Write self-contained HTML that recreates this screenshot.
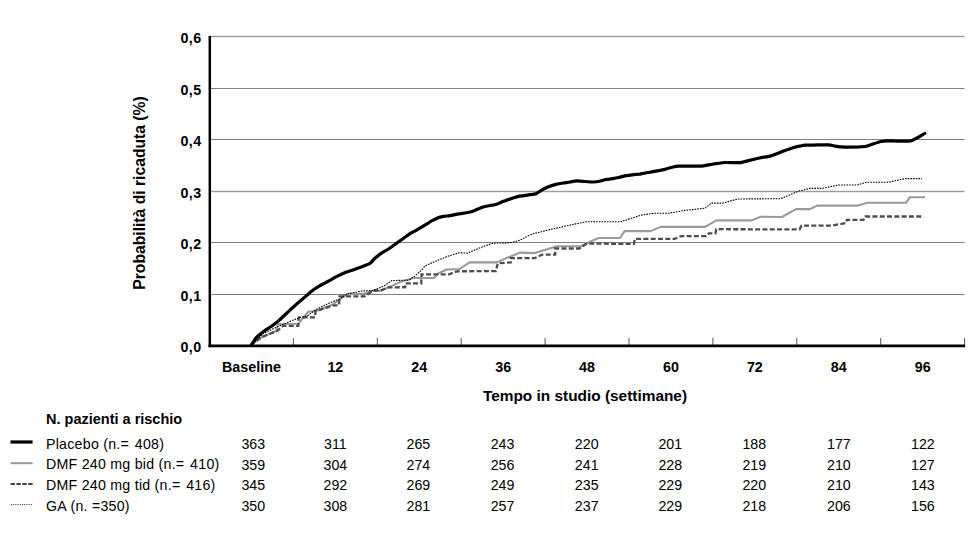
<!DOCTYPE html>
<html><head><meta charset="utf-8"><style>
html,body{margin:0;padding:0;background:#fff;width:975px;height:540px;overflow:hidden}
svg{display:block}
text{font-family:"Liberation Sans",sans-serif;fill:#000}
.tk{font-weight:bold;font-size:14.3px}
.ti{font-weight:bold;font-size:15.4px}
.yt{font-weight:bold;font-size:15.7px}
.hd{font-weight:bold;font-size:14.5px}
.rg{font-size:14.2px;letter-spacing:0.25px}
.nm{font-size:14.2px}
</style></head><body>
<svg width="975" height="540" viewBox="0 0 975 540">
<defs><clipPath id="plot"><rect x="0" y="0" width="975" height="345.5"/></clipPath></defs>
<rect x="211" y="35" width="753.6" height="3" fill="#ececec"/>
<rect x="211" y="36" width="753.6" height="1" fill="#9c9c9c"/>
<rect x="211" y="88" width="753.6" height="1" fill="#808080"/>
<rect x="211" y="139" width="753.6" height="1" fill="#808080"/>
<rect x="211" y="190" width="753.6" height="3" fill="#ececec"/>
<rect x="211" y="191" width="753.6" height="1" fill="#9c9c9c"/>
<rect x="211" y="242" width="753.6" height="1" fill="#808080"/>
<rect x="211" y="294" width="753.6" height="1" fill="#808080"/>
<text x="201.8" y="43.10" text-anchor="end" class="tk" letter-spacing="0.5">0,6</text>
<text x="201.8" y="95.10" text-anchor="end" class="tk" letter-spacing="0.5">0,5</text>
<text x="201.8" y="146.10" text-anchor="end" class="tk" letter-spacing="0.5">0,4</text>
<text x="201.8" y="198.10" text-anchor="end" class="tk" letter-spacing="0.5">0,3</text>
<text x="201.8" y="249.10" text-anchor="end" class="tk" letter-spacing="0.5">0,2</text>
<text x="201.8" y="301.10" text-anchor="end" class="tk" letter-spacing="0.5">0,1</text>
<text x="201.8" y="352.20" text-anchor="end" class="tk" letter-spacing="0.5">0,0</text>
<line x1="293.40" y1="338" x2="293.40" y2="345.85" stroke="#555" stroke-width="1"/>
<line x1="377.30" y1="338" x2="377.30" y2="345.85" stroke="#555" stroke-width="1"/>
<line x1="461.20" y1="338" x2="461.20" y2="345.85" stroke="#555" stroke-width="1"/>
<line x1="545.10" y1="338" x2="545.10" y2="345.85" stroke="#555" stroke-width="1"/>
<line x1="629.00" y1="338" x2="629.00" y2="345.85" stroke="#555" stroke-width="1"/>
<line x1="712.90" y1="338" x2="712.90" y2="345.85" stroke="#555" stroke-width="1"/>
<line x1="796.80" y1="338" x2="796.80" y2="345.85" stroke="#555" stroke-width="1"/>
<line x1="880.70" y1="338" x2="880.70" y2="345.85" stroke="#555" stroke-width="1"/>
<line x1="964.60" y1="338" x2="964.60" y2="345.85" stroke="#555" stroke-width="1"/>
<text x="251.45" y="371.6" text-anchor="middle" class="tk">Baseline</text>
<text x="335.35" y="371.6" text-anchor="middle" class="tk">12</text>
<text x="419.25" y="371.6" text-anchor="middle" class="tk">24</text>
<text x="503.15" y="371.6" text-anchor="middle" class="tk">36</text>
<text x="587.05" y="371.6" text-anchor="middle" class="tk">48</text>
<text x="670.95" y="371.6" text-anchor="middle" class="tk">60</text>
<text x="754.85" y="371.6" text-anchor="middle" class="tk">72</text>
<text x="838.75" y="371.6" text-anchor="middle" class="tk">84</text>
<text x="922.65" y="371.6" text-anchor="middle" class="tk">96</text>
<path d="M250.6,345.0 L262.0,337.0 L276.0,331.0 L278.0,324.0 L298.3,323.8 L308.3,311.6 L315.6,311.2 L332.2,304.8 L343.3,297.0 L347.4,293.9 L364.4,293.5 L373.3,290.5 L380.7,290.7 L388.1,287.6 L400.0,282.1 L413.3,278.0 L434.1,278.0 L437.8,273.6 L446.7,269.5 L459.3,269.1 L469.6,262.4 L496.3,262.4 L520.0,252.6 L534.8,253.1 L557.0,246.3 L581.1,246.3 L590.4,241.5 L598.7,238.0 L620.0,238.0 L624.6,231.1 L650.6,231.1 L660.7,226.9 L705.2,226.9 L716.3,220.4 L751.5,220.4 L760.7,216.7 L782.0,217.0 L795.9,209.1 L809.8,209.1 L817.2,205.6 L858.0,205.6 L867.2,202.8 L906.1,202.8 L909.8,197.2 L925.0,197.2" fill="none" stroke="#9a9a9a" stroke-width="2.1" stroke-linejoin="round"/>
<path d="M250.6,345.0 L262.0,337.0 L277.0,331.0 L283.0,325.8 L298.3,325.8 L298.8,317.3 L315.0,317.3 L315.6,311.0 L334.0,305.3 L339.0,305.3 L339.5,296.4 L364.4,296.4 L373.3,290.5 L380.7,290.5 L388.1,287.4 L405.2,287.2 L405.4,283.4 L421.3,283.4 L421.5,274.3 L449.0,274.3 L457.0,271.3 L495.9,271.1 L497.8,263.3 L510.7,262.4 L510.7,258.1 L534.8,258.1 L542.2,254.6 L555.2,254.6 L555.2,248.5 L579.3,248.5 L586.7,243.6 L633.9,243.9 L634.8,238.9 L674.6,238.9 L681.1,236.1 L706.1,236.1 L708.9,233.3 L715.4,233.3 L716.3,229.2 L799.6,229.4 L801.5,225.7 L831.1,225.7 L845.9,223.1 L846.9,219.8 L863.5,219.8 L865.4,216.5 L923.7,216.5" fill="none" stroke="#4d4d4d" stroke-width="2.3" stroke-dasharray="5 2.3"/>
<path d="M250.6,345.0 L263.7,333.3 L277.6,326.7 L292.0,320.6 L300.0,317.6 L307.2,315.9 L315.6,309.8 L326.7,304.2 L338.9,299.2 L347.4,293.9 L362.2,290.9 L373.3,290.5 L384.4,285.7 L391.9,280.5 L408.9,280.2 L414.8,276.1 L422.2,269.5 L425.2,265.8 L437.0,260.6 L448.1,256.1 L459.3,252.8 L467.4,253.1 L482.2,246.9 L493.3,243.1 L510.4,242.8 L520.0,240.2 L531.1,234.4 L549.6,229.6 L575.6,223.9 L586.7,221.7 L620.9,221.7 L641.3,215.1 L654.3,213.2 L669.1,213.2 L683.9,210.5 L705.2,208.2 L711.2,203.1 L722.8,203.1 L737.6,199.0 L780.6,198.7 L797.8,191.4 L809.8,188.4 L821.9,188.4 L838.5,185.0 L857.5,185.0 L866.3,182.2 L888.5,182.2 L905.2,178.6 L921.9,178.6" fill="none" stroke="#000" stroke-width="1.1" stroke-dasharray="1.6 1.1"/>
<path d="M251.0,345.6 C251.5,344.9 255.5,338.4 256.7,337.2 C257.8,335.9 263.5,331.6 264.8,330.6 C266.1,329.7 271.0,326.7 272.2,325.8 C273.4,324.9 278.1,321.2 279.6,319.9 C281.1,318.6 288.5,311.5 290.0,310.1 C291.5,308.7 296.2,304.5 297.4,303.4 C298.6,302.3 303.6,298.2 304.8,297.1 C306.0,296.0 311.0,291.6 312.2,290.7 C313.4,289.8 318.1,286.8 319.6,285.9 C321.1,285.0 328.5,281.1 330.0,280.3 C331.5,279.5 336.0,276.8 337.4,276.1 C338.8,275.4 345.1,272.5 346.3,272.0 C347.5,271.5 351.1,270.6 352.2,270.2 C353.3,269.8 358.1,268.2 359.6,267.6 C361.1,267.0 368.8,264.0 370.0,263.3 C371.2,262.6 373.5,259.6 374.4,258.8 C375.3,258.0 379.9,254.1 381.1,253.3 C382.3,252.5 387.3,249.8 388.5,249.0 C389.7,248.2 394.7,244.7 395.9,243.8 C397.1,242.9 402.1,239.3 403.3,238.5 C404.5,237.7 408.8,234.3 410.0,233.6 C411.2,232.9 416.2,230.3 417.4,229.6 C418.6,228.9 423.6,225.9 424.8,225.2 C426.0,224.5 431.1,221.3 432.2,220.7 C433.3,220.1 437.2,218.2 438.1,217.8 C439.0,217.4 442.3,216.6 443.3,216.4 C444.3,216.2 448.8,215.8 450.0,215.6 C451.2,215.4 456.2,214.3 457.4,214.1 C458.6,213.9 463.6,213.2 464.8,213.0 C466.0,212.8 471.1,211.8 472.2,211.5 C473.3,211.2 477.1,209.3 478.1,208.9 C479.1,208.5 483.1,207.0 484.1,206.7 C485.1,206.4 488.9,205.7 490.0,205.5 C491.1,205.3 496.2,204.3 497.4,203.9 C498.6,203.5 503.6,201.4 504.8,200.9 C506.0,200.4 511.0,198.7 512.2,198.3 C513.4,197.9 518.1,196.4 519.6,196.1 C521.1,195.8 528.6,194.9 530.0,194.7 C531.4,194.5 535.0,194.1 535.9,193.7 C536.8,193.3 540.1,191.0 541.1,190.4 C542.1,189.8 547.3,187.2 548.5,186.7 C549.7,186.2 554.7,184.7 555.9,184.4 C557.1,184.1 562.1,183.2 563.3,183.0 C564.5,182.8 568.9,182.2 570.0,182.0 C571.1,181.8 575.5,180.9 576.7,180.9 C577.9,180.9 583.4,181.4 584.8,181.5 C586.2,181.6 592.5,182.0 593.7,182.0 C594.9,182.0 598.7,181.5 599.6,181.3 C600.5,181.1 603.9,180.0 604.8,179.8 C605.7,179.6 609.0,179.2 610.0,179.0 C611.0,178.8 616.2,178.1 617.4,177.8 C618.6,177.5 623.6,176.2 624.8,175.9 C626.0,175.7 631.0,175.0 632.2,174.8 C633.4,174.7 638.5,174.2 639.6,174.1 C640.7,173.9 644.7,173.2 645.6,173.0 C646.5,172.8 649.0,172.4 650.0,172.2 C651.0,172.0 656.2,171.1 657.4,170.9 C658.6,170.7 663.6,169.7 664.8,169.4 C666.0,169.1 671.0,167.5 672.2,167.2 C673.4,166.9 676.5,166.2 678.9,166.1 C681.3,166.0 698.6,166.2 701.1,166.1 C703.6,166.0 707.3,165.0 708.5,164.8 C709.7,164.6 714.5,163.9 715.9,163.7 C717.3,163.5 723.6,162.6 725.6,162.5 C727.6,162.4 738.5,162.8 740.4,162.6 C742.3,162.4 746.9,161.0 748.5,160.6 C750.1,160.2 757.8,158.4 759.6,158.0 C761.4,157.6 768.5,156.5 770.0,156.1 C771.5,155.7 776.2,154.0 777.4,153.5 C778.6,153.0 783.6,151.1 784.8,150.6 C786.0,150.1 791.0,148.4 792.2,148.0 C793.4,147.6 798.5,146.3 799.6,146.1 C800.7,145.9 804.7,145.2 805.6,145.1 C806.5,145.0 809.0,145.2 810.0,145.2 C811.0,145.2 815.9,144.9 817.4,144.9 C818.9,144.9 827.0,144.8 828.5,144.9 C830.0,145.0 834.2,145.9 835.2,146.1 C836.2,146.3 839.9,146.8 841.1,146.9 C842.3,147.0 848.5,147.1 850.0,147.1 C851.5,147.1 857.5,147.1 858.9,147.0 C860.3,146.9 865.1,146.6 866.3,146.3 C867.5,146.0 872.5,144.1 873.7,143.7 C874.9,143.3 880.0,141.7 881.1,141.5 C882.2,141.3 884.5,140.9 887.0,140.8 C889.5,140.8 907.6,141.5 910.7,140.9 C913.9,140.3 923.6,134.0 924.8,133.4" fill="none" stroke="#000" stroke-width="3.2" stroke-linejoin="round" stroke-linecap="round" clip-path="url(#plot)"/>
<line x1="209.8" y1="36" x2="209.8" y2="347.25" stroke="#000" stroke-width="2.5"/>
<line x1="208.55" y1="345.85" x2="965.1" y2="345.85" stroke="#000" stroke-width="2.6"/>
<text transform="translate(145.2,193) rotate(-90)" text-anchor="middle" class="yt">Probabilità di ricaduta (%)</text>
<text x="585" y="401.2" text-anchor="middle" class="ti">Tempo in studio (settimane)</text>
<text x="46" y="423.6" class="hd">N. pazienti a rischio</text>
<text x="46" y="448.60" class="rg">Placebo (n.= <tspan dx="1.5">408)</tspan></text>
<text x="253.30" y="448.70" text-anchor="middle" class="nm">363</text>
<text x="335.40" y="448.70" text-anchor="middle" class="nm">311</text>
<text x="418.40" y="448.70" text-anchor="middle" class="nm">265</text>
<text x="502.50" y="448.70" text-anchor="middle" class="nm">243</text>
<text x="586.70" y="448.70" text-anchor="middle" class="nm">220</text>
<text x="670.30" y="448.70" text-anchor="middle" class="nm">201</text>
<text x="754.30" y="448.70" text-anchor="middle" class="nm">188</text>
<text x="838.90" y="448.70" text-anchor="middle" class="nm">177</text>
<text x="922.90" y="448.70" text-anchor="middle" class="nm">122</text>
<text x="46" y="469.40" class="rg">DMF 240 mg bid (n.= <tspan dx="1.5">410)</tspan></text>
<text x="253.30" y="469.50" text-anchor="middle" class="nm">359</text>
<text x="335.40" y="469.50" text-anchor="middle" class="nm">304</text>
<text x="418.40" y="469.50" text-anchor="middle" class="nm">274</text>
<text x="502.50" y="469.50" text-anchor="middle" class="nm">256</text>
<text x="586.70" y="469.50" text-anchor="middle" class="nm">241</text>
<text x="670.30" y="469.50" text-anchor="middle" class="nm">228</text>
<text x="754.30" y="469.50" text-anchor="middle" class="nm">219</text>
<text x="838.90" y="469.50" text-anchor="middle" class="nm">210</text>
<text x="922.90" y="469.50" text-anchor="middle" class="nm">127</text>
<text x="46" y="490.10" class="rg">DMF 240 mg tid (n.= <tspan dx="1.5">416)</tspan></text>
<text x="253.30" y="490.20" text-anchor="middle" class="nm">345</text>
<text x="335.40" y="490.20" text-anchor="middle" class="nm">292</text>
<text x="418.40" y="490.20" text-anchor="middle" class="nm">269</text>
<text x="502.50" y="490.20" text-anchor="middle" class="nm">249</text>
<text x="586.70" y="490.20" text-anchor="middle" class="nm">235</text>
<text x="670.30" y="490.20" text-anchor="middle" class="nm">229</text>
<text x="754.30" y="490.20" text-anchor="middle" class="nm">220</text>
<text x="838.90" y="490.20" text-anchor="middle" class="nm">210</text>
<text x="922.90" y="490.20" text-anchor="middle" class="nm">143</text>
<text x="46" y="510.80" class="rg">GA (n. =350)</text>
<text x="253.30" y="510.90" text-anchor="middle" class="nm">350</text>
<text x="335.40" y="510.90" text-anchor="middle" class="nm">308</text>
<text x="418.40" y="510.90" text-anchor="middle" class="nm">281</text>
<text x="502.50" y="510.90" text-anchor="middle" class="nm">257</text>
<text x="586.70" y="510.90" text-anchor="middle" class="nm">237</text>
<text x="670.30" y="510.90" text-anchor="middle" class="nm">229</text>
<text x="754.30" y="510.90" text-anchor="middle" class="nm">218</text>
<text x="838.90" y="510.90" text-anchor="middle" class="nm">206</text>
<text x="922.90" y="510.90" text-anchor="middle" class="nm">156</text>
<line x1="10.5" y1="442" x2="32.6" y2="442" stroke="#000" stroke-width="3.2"/>
<line x1="10.5" y1="463.2" x2="32.6" y2="463.2" stroke="#999" stroke-width="2"/>
<line x1="10.5" y1="484" x2="32.6" y2="484" stroke="#444" stroke-width="2" stroke-dasharray="4.4 1.5"/>
<line x1="11" y1="504.6" x2="32" y2="504.6" stroke="#222" stroke-width="1" stroke-dasharray="1 1.2"/>
</svg>
</body></html>
